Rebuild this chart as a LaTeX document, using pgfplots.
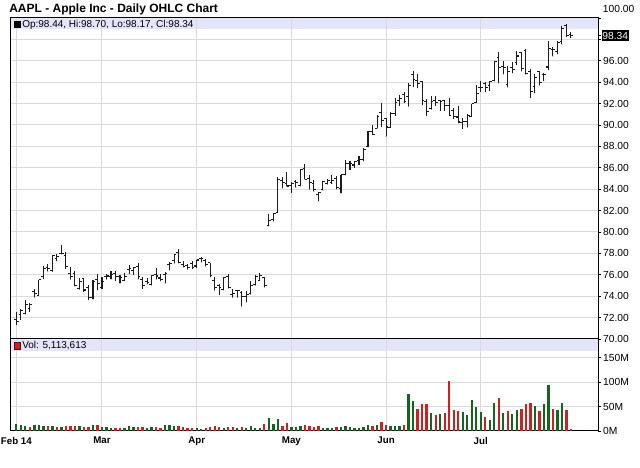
\documentclass[border=0pt]{standalone}
\usepackage{fontspec}
\setmainfont{Liberation Sans}
\usepackage{pgfplots}
\usepackage{pgfplotstable}
\pgfplotsset{compat=1.18}
\definecolor{band}{RGB}{228,228,250}
\definecolor{gridc}{RGB}{218,218,218}
\definecolor{upg}{RGB}{22,100,30}
\definecolor{dnr}{RGB}{205,32,32}
\definecolor{barc}{RGB}{28,28,28}
\pgfdeclareplotmark{otick}{\pgfpathmoveto{\pgfpoint{-1.7pt}{0pt}}\pgfpathlineto{\pgfpoint{0pt}{0pt}}\pgfusepathqstroke}
\pgfdeclareplotmark{ctick}{\pgfpathmoveto{\pgfpoint{0pt}{0pt}}\pgfpathlineto{\pgfpoint{1.7pt}{0pt}}\pgfusepathqstroke}
\pgfplotstableread{
x o h l c v up
0 71.80 72.53 71.33 71.65 14 1
1 72.26 72.78 71.82 72.68 12 1
2 72.37 73.61 72.32 73.23 11 1
3 72.87 73.36 72.54 73.22 9 0
4 74.48 74.70 73.90 74.24 13 1
5 74.10 75.50 74.10 75.57 12 1
6 75.80 76.82 75.64 76.57 10 1
7 76.71 76.99 76.31 76.56 11 0
8 76.38 77.84 76.31 77.78 11 1
9 77.50 77.99 77.31 77.71 9 0
10 78.00 78.74 77.94 78.00 9 1
11 77.82 78.13 76.57 76.77 11 0
12 76.14 76.71 75.57 75.88 11 0
13 76.11 76.37 74.94 75.04 10 0
14 74.74 75.71 74.63 75.36 10 1
15 75.63 75.65 74.43 74.58 8 0
16 74.80 75.00 73.66 73.91 9 0
17 73.88 75.54 73.72 75.38 12 1
18 75.58 76.11 74.59 75.18 13 0
19 74.77 75.81 74.69 75.39 9 1
20 75.86 76.09 75.59 75.89 8 1
21 75.85 76.39 75.59 76.05 7 1
22 76.11 76.35 75.44 75.82 7 0
23 75.87 75.99 75.21 75.78 6 0
24 75.48 76.19 75.48 75.85 7 1
25 76.49 76.96 76.08 76.58 10 1
26 76.36 76.76 76.00 76.66 8 1
27 76.78 77.09 75.59 75.81 9 0
28 75.54 75.84 74.71 74.96 9 0
29 75.39 75.71 75.12 75.25 7 1
30 75.13 75.99 75.03 75.91 8 1
31 76.04 76.61 75.57 75.89 8 0
32 75.70 76.10 75.43 75.53 7 0
33 75.99 76.25 75.19 76.12 13 1
34 76.92 77.21 76.44 77.03 12 1
35 77.36 77.94 77.08 77.86 10 1
36 78.07 78.43 77.10 77.11 10 0
37 77.00 77.31 76.70 76.78 8 0
38 76.90 77.00 76.50 76.69 7 0
39 77.03 77.26 76.56 76.68 6 0
40 76.82 77.41 76.68 77.38 6 1
41 77.48 77.64 77.18 77.51 5 1
42 77.34 77.50 76.81 76.97 6 0
43 77.12 77.14 75.80 75.97 9 0
44 75.43 75.84 74.56 74.78 10 0
45 75.03 75.16 74.13 74.78 8 0
46 74.66 75.78 74.57 75.76 7 1
47 75.81 76.03 74.74 74.78 9 0
48 74.14 74.69 73.89 74.23 9 0
49 74.56 74.59 73.89 74.53 7 1
50 74.32 74.52 73.05 73.99 9 0
51 74.01 74.44 73.45 74.14 7 1
52 74.29 75.39 74.17 74.99 10 1
53 75.05 75.96 75.00 75.88 7 1
54 75.47 76.15 75.47 75.96 7 1
55 75.78 75.83 74.84 74.96 14 0
56 80.65 81.71 80.56 81.11 26 1
57 81.16 81.71 81.00 81.71 14 1
58 81.83 85.11 81.79 84.87 24 1
59 84.82 85.16 84.10 84.62 10 0
60 84.56 85.63 84.26 84.30 16 0
61 84.34 84.68 83.69 84.50 9 1
62 84.73 84.90 84.16 84.65 8 1
63 84.31 85.86 84.29 85.85 11 1
64 85.97 86.34 84.92 84.92 13 0
65 85.04 85.33 84.00 84.62 10 0
66 84.54 84.84 83.79 84.00 9 0
67 83.51 83.75 82.90 83.65 10 0
68 83.93 84.81 83.90 84.69 7 1
69 84.57 84.98 84.47 84.82 6 1
70 84.63 85.34 84.53 84.84 6 1
71 84.96 85.23 84.01 84.12 8 0
72 84.09 85.36 83.63 85.36 9 1
73 85.41 86.76 85.33 86.37 10 1
74 86.36 86.63 85.82 86.39 8 1
75 86.26 86.67 86.01 86.62 7 1
76 86.66 87.12 86.30 86.75 7 1
77 86.75 87.82 86.64 87.73 8 1
78 87.98 89.41 87.95 89.38 12 1
79 89.43 89.98 89.11 89.14 11 0
80 89.69 90.98 89.68 90.77 13 1
81 91.14 92.02 89.84 90.43 19 0
82 90.57 90.69 88.93 89.81 13 0
83 89.78 91.25 89.75 91.08 10 1
84 91.06 92.56 90.87 92.12 10 1
85 92.31 92.77 91.80 92.48 10 1
86 92.84 93.04 92.07 92.22 12 0
87 92.70 93.88 91.75 93.70 75 1
88 94.73 95.05 93.57 94.25 62 1
89 94.13 94.76 93.47 93.86 46 0
90 94.04 94.12 91.90 92.29 55 0
91 92.20 92.44 90.88 91.28 55 0
92 91.51 92.75 91.45 92.20 37 1
93 92.31 92.70 91.80 92.08 32 0
94 92.27 92.29 91.35 92.18 35 1
95 92.29 92.30 91.34 91.86 37 0
96 91.85 92.55 90.90 90.91 102 0
97 91.32 91.62 90.60 90.83 44 0
98 90.75 91.74 90.19 90.28 40 0
99 90.21 90.70 89.65 90.36 38 1
100 90.37 91.05 89.80 90.90 33 1
101 90.82 92.00 90.77 91.98 64 1
102 92.10 93.73 92.09 92.93 50 1
103 93.52 94.07 93.13 93.52 38 1
104 93.87 94.06 93.09 93.48 29 0
105 93.67 94.10 93.20 94.03 22 1
106 94.14 95.99 94.10 95.97 57 1
107 96.27 96.80 93.92 95.35 67 0
108 95.44 95.95 94.76 95.39 37 1
109 93.76 95.55 93.52 95.04 40 0
110 95.36 95.89 94.86 95.22 35 1
111 95.86 96.89 95.65 96.45 44 1
112 96.80 96.85 95.03 95.32 46 0
113 96.97 97.10 94.74 94.78 55 0
114 95.03 95.28 92.57 93.09 58 0
115 93.62 94.74 93.02 94.43 51 1
116 94.99 95.00 93.72 93.94 40 0
117 94.68 94.89 94.12 94.72 55 1
118 95.42 97.88 95.17 97.19 95 1
119 97.04 97.32 96.42 97.03 46 0
120 96.85 97.84 96.64 97.67 44 1
121 97.82 99.24 97.55 99.02 57 1
122 99.33 99.44 98.25 98.38 44 0
123 98.44 98.70 98.17 98.34 5 0
}\data
\pgfplotsset{
  panel/.style={
    scale only axis, width=441pt,
    xmin=-1.4, xmax=129,
    xtick={0,19,40,61,82,103},
    grid=major, grid style={gridc, line width=0.75pt},
    axis line style={black, line width=0.75pt},
    ytick pos=right, yticklabel pos=right,
    tick align=outside, major tick length=2.5pt,
    tick style={black, line width=0.6pt},
    xtick style={draw=none},
    tick label style={font=\fontsize{7.7}{9}\selectfont},
    yticklabel style={anchor=west, inner sep=1.2pt},
    set layers,
  }
}
\begin{document}
\begin{tikzpicture}
% price panel
\begin{axis}[panel, anchor=south west, at={(7.5pt,96.75pt)}, height=240.75pt,
  ymin=70, ymax=100,
  ytick={70,72,...,100},
  yticklabels={70.00,72.00,74.00,76.00,78.00,80.00,82.00,84.00,86.00,88.00,90.00,92.00,94.00,96.00,{},{}},
  xticklabels={},
  extra y ticks={98.34}, extra y tick labels={98.34},
  extra y tick style={grid=none, yticklabel style={fill=black, text=white, inner xsep=0.6pt, inner ysep=1.3pt}},
]
\begin{pgfonlayer}{axis background}
\fill[band] (axis cs:-1.4,98.97) rectangle (axis cs:129,100);
\end{pgfonlayer}
\addplot[only marks, mark=*, mark size=0.01pt, draw=barc, error bars/.cd, y dir=plus, y explicit, error mark=none,
  error bar style={draw=barc, line width=0.8pt}]
  table[x=x, y=l, y error expr=\thisrow{h}-\thisrow{l}] {\data};
\addplot[only marks, mark=otick, mark options={draw=barc, line width=0.8pt}] table[x=x, y=o] {\data};
\addplot[only marks, mark=ctick, mark options={draw=barc, line width=0.8pt}] table[x=x, y=c] {\data};
\end{axis}
% volume panel
\begin{axis}[panel, anchor=south west, at={(7.5pt,27.75pt)}, height=69pt,
  ymin=0, ymax=188.5,
  ytick={0,50,100,150}, yticklabels={0M,50M,100M,150M},
  xticklabels={Feb 14,Mar,Apr,May,Jun,Jul},
  xticklabel style={font=\bfseries\fontsize{7.3}{9}\selectfont, inner sep=2pt},
]
\begin{pgfonlayer}{axis background}
\fill[band] (axis cs:-1.4,164.5) rectangle (axis cs:129,188.5);
\end{pgfonlayer}
\addplot[ycomb, draw=upg, line width=1.75pt, restrict expr to domain={\thisrow{up}}{0.5:1.5}] table[x=x, y=v] {\data};
\addplot[ycomb, draw=dnr, line width=1.75pt, restrict expr to domain={\thisrow{up}}{-0.5:0.5}] table[x=x, y=v] {\data};
\end{axis}
% texts
\node[anchor=base west, font=\bfseries\fontsize{9}{11}\selectfont, inner sep=0] at (6.75pt,341.7pt) {AAPL - Apple Inc - Daily OHLC Chart};
\fill[black] (10.5pt,330pt) rectangle (15.5pt,335pt);
\node[anchor=west, font=\fontsize{7.5}{9}\selectfont, inner sep=0] at (16.5pt,332.5pt) {Op:98.44, Hi:98.70, Lo:98.17, Cl:98.34};
\filldraw[fill=dnr, draw=black!60!dnr, line width=0.4pt] (10.5pt,89.3pt) rectangle (15.5pt,94.3pt);
\node[anchor=west, font=\fontsize{7.5}{9}\selectfont, inner sep=0] at (16.5pt,91.8pt) {Vol: 5,113,613};
\node[anchor=west, font=\fontsize{7.7}{9}\selectfont, inner sep=0] at (452pt,344.3pt) {100.00};
\pgfresetboundingbox
\useasboundingbox (0,0) rectangle (480pt,351pt);
\end{tikzpicture}
\end{document}
